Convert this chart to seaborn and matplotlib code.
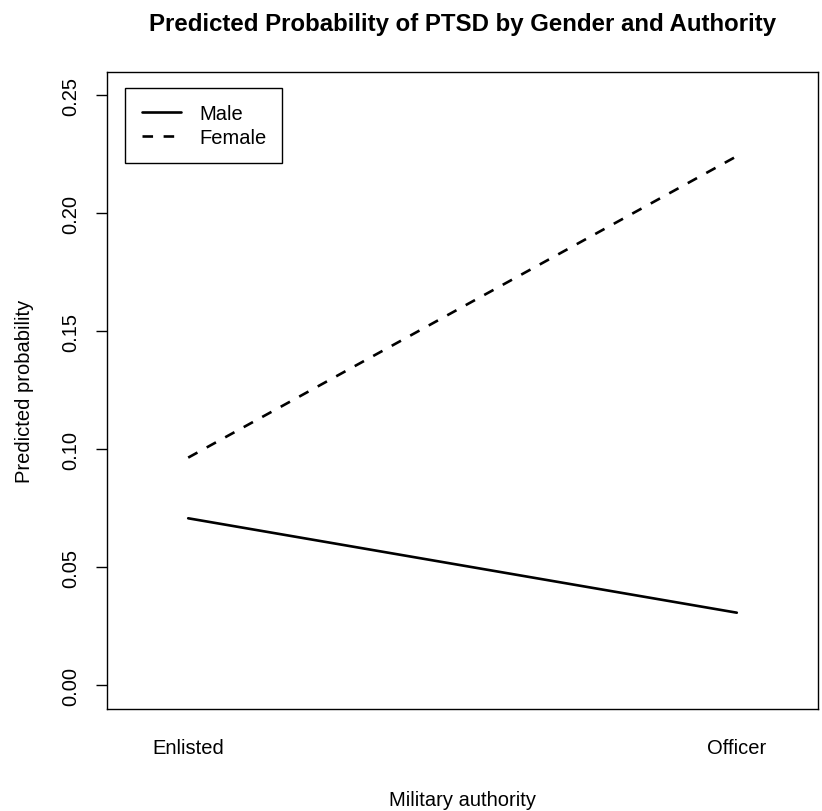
import matplotlib
matplotlib.use("Agg")
import matplotlib.pyplot as plt
import seaborn as sns
import pandas as pd

authority = ["Enlisted", "Officer"]
male_prob = [0.0708, 0.0308]
female_prob = [0.0965, 0.2242]
genders = ["Male", "Female"]
y_ticks = [0.00, 0.05, 0.10, 0.15, 0.20, 0.25]

df = pd.DataFrame({
    "authority": authority * 2,
    "prob": male_prob + female_prob,
    "gender": ["Male"] * 2 + ["Female"] * 2,
})

sns.set_theme(style="white")
plt.rcParams["font.family"] = ["Liberation Sans", "DejaVu Sans"]
plt.rcParams["text.color"] = "black"
plt.rcParams["axes.labelcolor"] = "black"
plt.rcParams["xtick.color"] = "black"
plt.rcParams["ytick.color"] = "black"

fig = plt.figure(figsize=(8.22, 8.12), dpi=100)
ax = fig.add_axes([107 / 822, (812 - 710) / 812, 711 / 822, (710 - 72.7) / 812])

sns.lineplot(data=df, x="authority", y="prob", style="gender", style_order=genders,
             dashes={"Male": "", "Female": (4, 4)}, color="black", linewidth=1.9,
             ax=ax, legend=True)

ax.set_xlim(-0.148, 1.148)
ax.set_ylim(-0.01, 0.26)
ax.set_yticks(y_ticks)
ax.set_yticklabels([f"{v:.2f}" for v in y_ticks], rotation=90, va="center")
ax.set_xticks([0, 1])
ax.set_xticklabels(authority)

for s in ax.spines.values():
    s.set_visible(True)
    s.set_color("black")
    s.set_linewidth(1.0)

ax.tick_params(axis="y", length=8, width=1.0, colors="black", pad=11, labelsize=14.5, left=True)
ax.tick_params(axis="x", length=0, pad=21, labelsize=14.5, bottom=True, colors="black")

ax.set_xlabel("Military authority", fontsize=14.5, labelpad=24, color="black")
ax.set_ylabel("Predicted probability", fontsize=14.5, labelpad=20, color="black")
ax.set_title("Predicted Probability of PTSD by Gender and Authority",
             fontsize=17.3, fontweight="bold", pad=30, color="black")

leg = ax.legend(loc="upper left", bbox_to_anchor=(0.026, 0.975), frameon=True,
                fancybox=False, edgecolor="black", framealpha=1, fontsize=14.5,
                handlelength=1.95, handletextpad=0.9, borderpad=0.8, labelspacing=0.25,
                borderaxespad=0)
leg.get_frame().set_linewidth(1.0)
for line in leg.get_lines():
    line.set_linewidth(1.9)
for t in leg.get_texts():
    t.set_color("black")

fig.savefig("out.png", dpi=100)
